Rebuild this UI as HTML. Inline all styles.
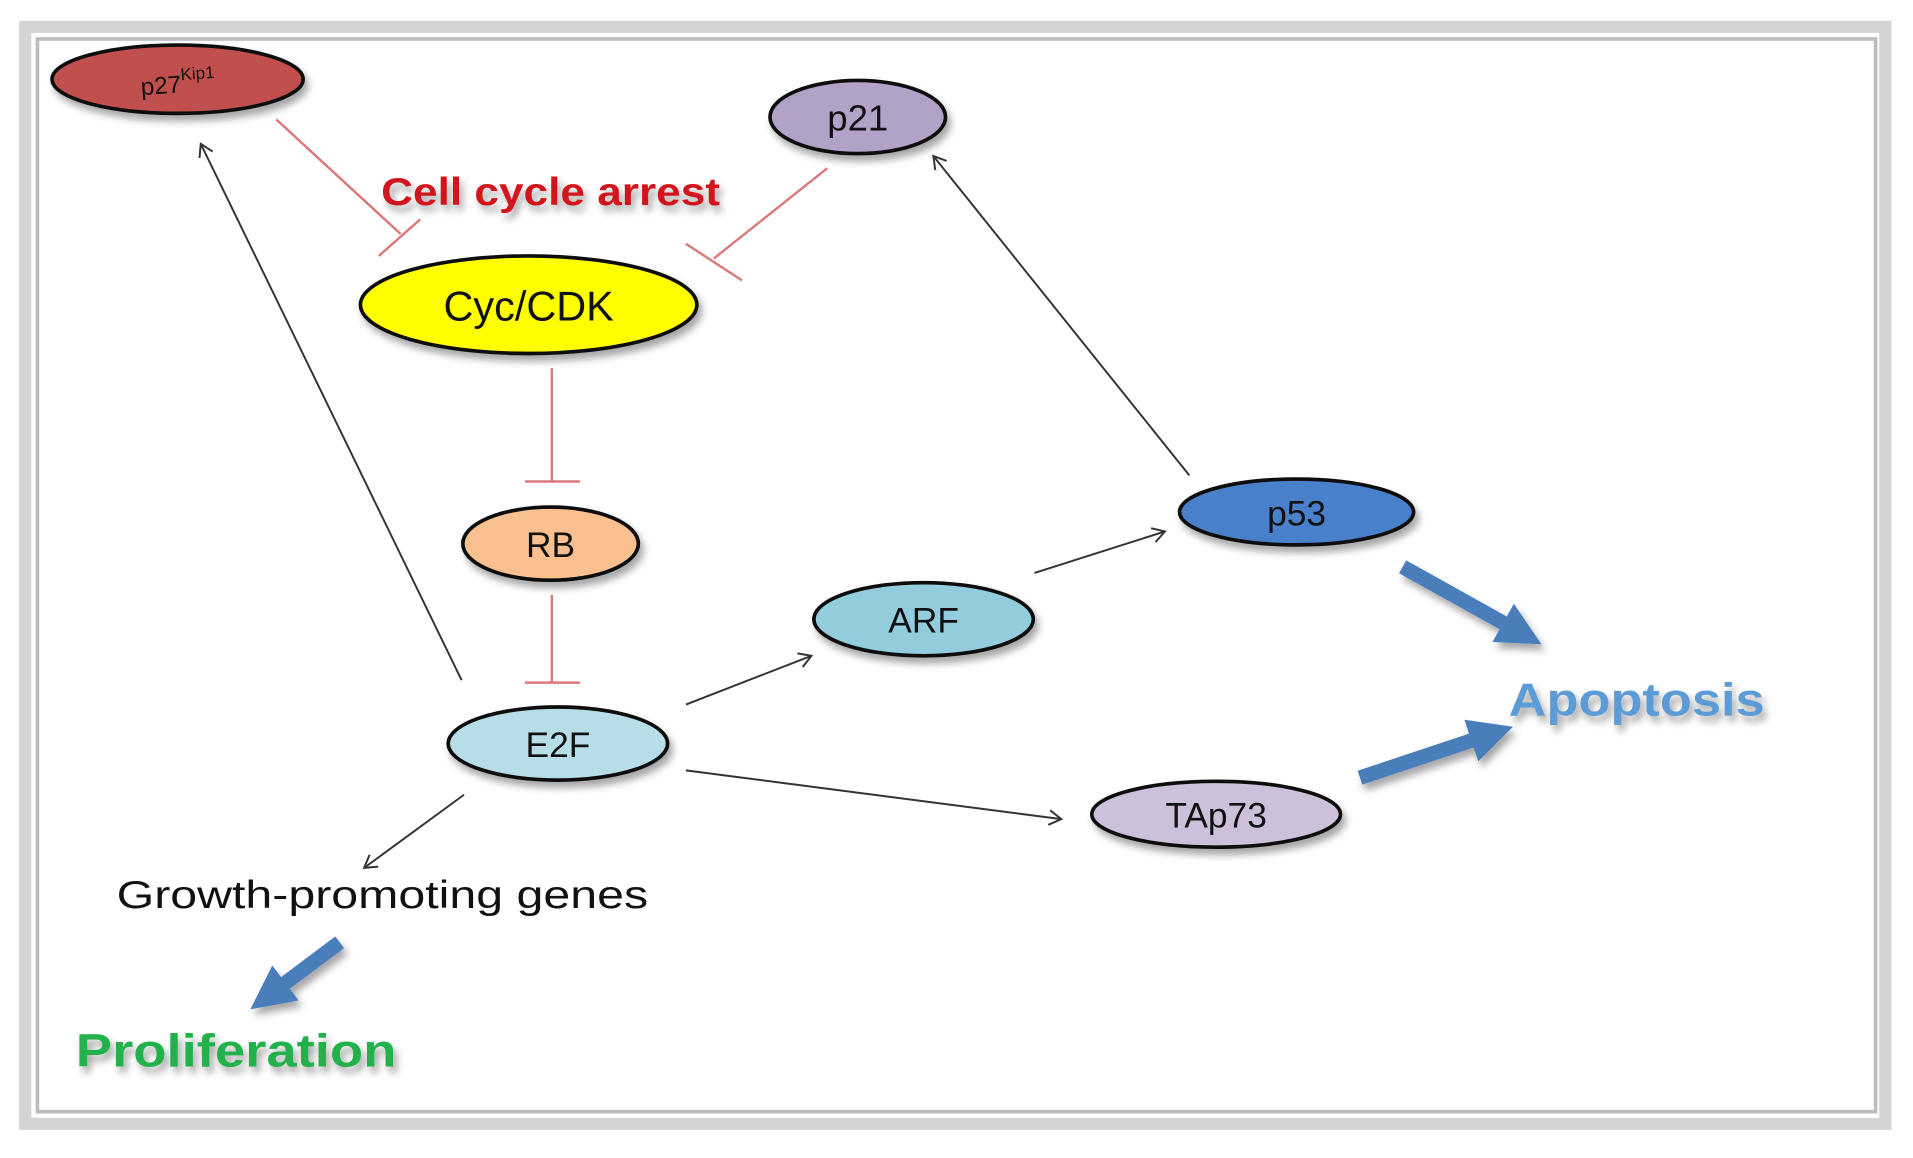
<!DOCTYPE html>
<html><head><style>html,body{margin:0;padding:0;background:#fff}svg{display:block}</style></head><body>
<svg width="1913" height="1158" viewBox="0 0 1568 950" xmlns="http://www.w3.org/2000/svg" font-family="'Liberation Sans',sans-serif">
<defs>
<marker id="a" markerWidth="14" markerHeight="14" refX="11" refY="7" orient="auto" markerUnits="userSpaceOnUse"><path d="M1,1 L11,7 L1,13" fill="none" stroke="#333" stroke-width="1.6"/></marker>
<marker id="b" markerWidth="3" markerHeight="3" refX="1.2" refY="1.5" orient="auto"><path d="M0,0 L3,1.5 L0,3 Z" fill="#4a7ebb"/></marker>
<filter id="s" x="-20%" y="-20%" width="150%" height="160%"><feDropShadow dx="3" dy="5" stdDeviation="3" flood-color="#000" flood-opacity="0.35"/></filter>
</defs>
<rect x="0" y="0" width="1568" height="950" fill="#fff"/>
<rect x="20" y="22" width="1526" height="900" fill="#fff" stroke="#d4d4d4" stroke-width="10"/>
<rect x="30" y="32" width="1508" height="880" fill="none" stroke="#bdbdbd" stroke-width="3"/>
<g stroke="#d9797a" stroke-width="2" fill="none">
<line x1="226" y1="98" x2="328" y2="192"/><line x1="310" y1="210" x2="344" y2="180"/>
<line x1="678" y1="138" x2="585" y2="212"/><line x1="562" y1="200" x2="608" y2="230"/>
<line x1="452" y1="302" x2="452" y2="395"/><line x1="430" y1="395" x2="475" y2="395"/>
<line x1="452" y1="488" x2="452" y2="560"/><line x1="430" y1="560" x2="475" y2="560"/>
</g>
<g stroke="#333" stroke-width="1.6" marker-end="url(#a)">
<line x1="378" y1="558" x2="164" y2="118"/>
<line x1="975" y1="390" x2="765" y2="128"/>
<line x1="562" y1="578" x2="665" y2="538"/>
<line x1="848" y1="470" x2="955" y2="436"/>
<line x1="562" y1="632" x2="870" y2="672"/>
<line x1="380" y1="652" x2="298" y2="712"/>
</g>
<g stroke="#4a7ebb" stroke-width="12" marker-end="url(#b)" filter="url(#s)">
<line x1="1150" y1="465" x2="1245" y2="518"/>
<line x1="1115" y1="638" x2="1220" y2="603"/>
<line x1="278" y1="773" x2="222" y2="815"/>
</g>
<g stroke="#111" stroke-width="3" filter="url(#s)">
<ellipse cx="145" cy="65" rx="103" ry="28" fill="#c0504d"/>
<ellipse cx="703" cy="96" rx="72" ry="30" fill="#b3a2c7"/>
<ellipse cx="433" cy="250" rx="138" ry="40" fill="#ffff00"/>
<ellipse cx="451" cy="446" rx="72" ry="30" fill="#fac090"/>
<ellipse cx="457" cy="610" rx="90" ry="30" fill="#b7dee8"/>
<ellipse cx="757" cy="508" rx="90" ry="30" fill="#93cddd"/>
<ellipse cx="1063" cy="420" rx="96" ry="27" fill="#4a80cc"/>
<ellipse cx="997" cy="668" rx="102" ry="27" fill="#ccc0da"/>
</g>
<g fill="#111" text-anchor="middle">
<text x="145" y="76" font-size="20" transform="rotate(-4 145 65)">p27<tspan font-size="14" dy="-10">Kip1</tspan></text>
<text x="703" y="107" font-size="30">p21</text>
<text x="433" y="263" font-size="34">Cyc/CDK</text>
<text x="451" y="457" font-size="29">RB</text>
<text x="457" y="621" font-size="29">E2F</text>
<text x="757" y="519" font-size="29">ARF</text>
<text x="1063" y="431" font-size="29">p53</text>
<text x="997" y="679" font-size="29">TAp73</text>
<text x="313" y="745" font-size="32" textLength="436" lengthAdjust="spacingAndGlyphs">Growth-promoting genes</text>
</g>
<g font-weight="bold" text-anchor="middle" filter="url(#s)">
<text x="451" y="168" font-size="32" fill="#d0141c" textLength="278" lengthAdjust="spacingAndGlyphs">Cell cycle arrest</text>
<text x="1342" y="587" font-size="38" fill="#5b9bd5" textLength="210" lengthAdjust="spacingAndGlyphs">Apoptosis</text>
<text x="193" y="875" font-size="38" fill="#22b14c" textLength="263" lengthAdjust="spacingAndGlyphs">Proliferation</text>
</g>
</svg>
</body></html>
